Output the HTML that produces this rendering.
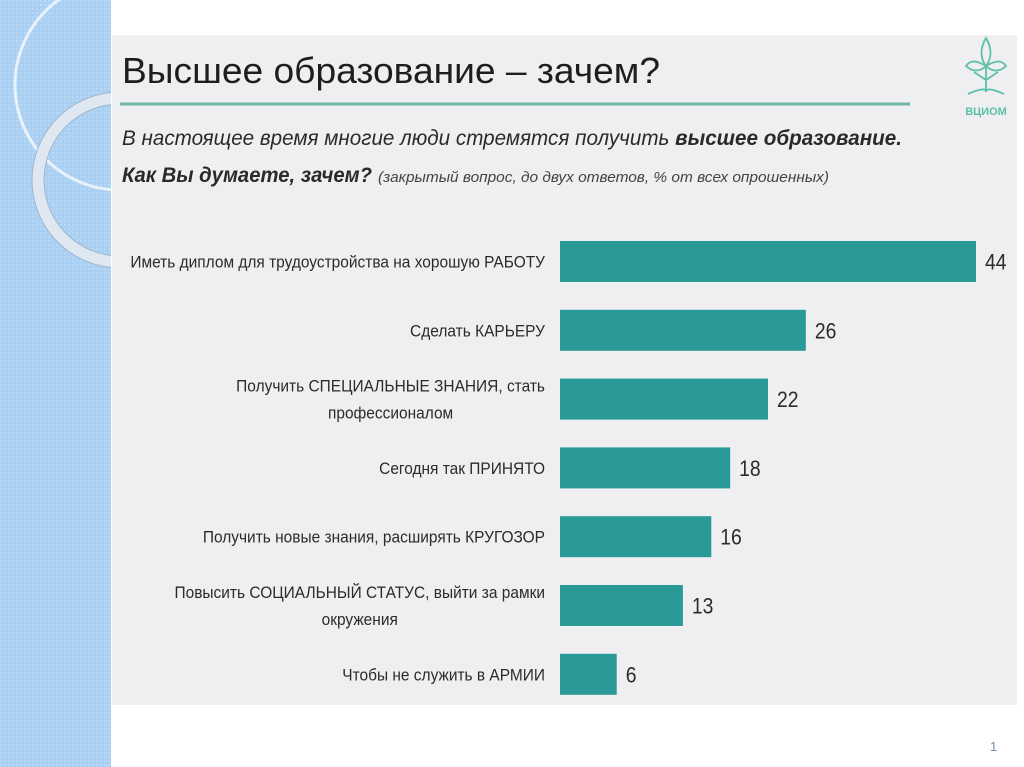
<!DOCTYPE html>
<html><head><meta charset="utf-8">
<style>
html,body{margin:0;padding:0;width:1024px;height:767px;overflow:hidden;background:#fff;}
svg{display:block;}
text{font-family:"Liberation Sans",sans-serif;}
</style></head>
<body>
<svg id="chart" width="1024" height="767" viewBox="0 0 1024 767">
  <defs>
    <pattern id="dots" width="4" height="4" patternUnits="userSpaceOnUse">
      <rect width="4" height="4" fill="#a9d0f3"/>
      <rect width="2" height="2" fill="#b8d8f5"/>
    </pattern>
  </defs>
  <rect x="0" y="0" width="111" height="767" fill="url(#dots)"/>
  <g fill="none">
    <circle cx="120" cy="85" r="105" stroke="#e9f2fb" stroke-width="3"/>
    <circle cx="120" cy="180" r="82" stroke="#dfe8f1" stroke-width="12"/>
    <circle cx="120" cy="180" r="88" stroke="#9fb6cc" stroke-width="1"/>
    <circle cx="120" cy="180" r="76" stroke="#9fb6cc" stroke-width="1"/>
  </g>
  <rect x="111" y="0" width="913" height="767" fill="#fff"/>
  <rect x="112" y="35" width="905" height="670" fill="#efeff2"/>

  <text x="122" y="83" font-size="36" fill="#1e1e1e" textLength="538" lengthAdjust="spacingAndGlyphs">Высшее образование – зачем?</text>
  <line x1="120" y1="104" x2="910" y2="104" stroke="#6fb5a8" stroke-width="3"/>
  <text x="122" y="145" font-size="21" font-style="italic" fill="#2a2a2a" textLength="780" lengthAdjust="spacingAndGlyphs">В настоящее время многие люди стремятся получить <tspan font-weight="bold">высшее образование.</tspan></text>
  <text x="122" y="182" font-size="21" font-style="italic" font-weight="bold" fill="#2a2a2a" textLength="250" lengthAdjust="spacingAndGlyphs">Как Вы думаете, зачем?</text>
  <text x="378" y="182" font-size="15" font-style="italic" fill="#444" textLength="451" lengthAdjust="spacingAndGlyphs">(закрытый вопрос, до двух ответов, % от всех опрошенных)</text>

  <g fill="none" stroke="#5cc0a8" stroke-width="1.8">
    <path d="M986 38 C980 48 980 58 986 66 C992 58 992 48 986 38Z"/>
    <path d="M986 66 C976 60 970 60 966 66 C972 72 980 72 986 66Z"/>
    <path d="M986 66 C996 60 1002 60 1006 66 C1000 72 992 72 986 66Z"/>
    <path d="M986 66 L986 92 M986 80 L974 72 M986 80 L998 72 M968 94 Q986 86 986 92 Q986 86 1004 94"/>
    <text x="986" y="115" font-size="11" font-weight="bold" fill="#5cc0a8" stroke="none" text-anchor="middle">ВЦИОМ</text>
  </g>

  <g id="bars"></g>
  <text x="990" y="751" font-size="13" fill="#7a8da0">1</text>
</svg>
<script>
const categories = [
  ["Иметь диплом для трудоустройства на хорошую РАБОТУ"],
  ["Сделать КАРЬЕРУ"],
  ["Получить СПЕЦИАЛЬНЫЕ ЗНАНИЯ, стать","профессионалом"],
  ["Сегодня так ПРИНЯТО"],
  ["Получить новые знания, расширять КРУГОЗОР"],
  ["Повысить СОЦИАЛЬНЫЙ СТАТУС, выйти за рамки","окружения"],
  ["Чтобы не служить в АРМИИ"]
];
const values = [44, 26, 22, 18, 16, 13, 6];
const valueLabels = ["44", "26", "22", "18", "16", "13", "6"];

const NS = "http://www.w3.org/2000/svg";
const g = document.getElementById("bars");
const x0 = 560, pxPerUnit = 416 / 44;
const y0 = 241, step = 68.8, barH = 41;
function xScale(v){ return x0 + v * pxPerUnit; }
function yScale(i){ return y0 + i * step; }

values.forEach((v, i) => {
  const y = yScale(i);
  const r = document.createElementNS(NS, "rect");
  r.setAttribute("x", x0);
  r.setAttribute("y", y);
  r.setAttribute("width", xScale(v) - x0);
  r.setAttribute("height", barH);
  r.setAttribute("fill", "#2a9a98");
  
  
  g.appendChild(r);

  const vx = xScale(v) + 9;
  const t = document.createElementNS(NS, "text");
  t.setAttribute("x", vx);
  t.setAttribute("y", y + barH / 2 + 8);
  t.setAttribute("font-size", "22");
  t.setAttribute("fill", "#2b2b2b");
  t.setAttribute("transform", `translate(${vx},0) scale(0.88,1) translate(${-vx},0)`);
  t.textContent = valueLabels[i];
  
  
  g.appendChild(t);

  const lines = categories[i];
  const lg = document.createElementNS(NS, "g");
  lg.setAttribute("transform", "translate(545,0) scale(0.91,1) translate(-545,0)");
  
  
  g.appendChild(lg);
  let firstW = 0;
  lines.forEach((ln, k) => {
    const lt = document.createElementNS(NS, "text");
    const cy = y + barH / 2 + 6 + (k - (lines.length - 1) / 2) * 27;
    lt.setAttribute("y", cy);
    lt.setAttribute("font-size", "17");
    lt.setAttribute("fill", "#2b2b2b");
    lt.textContent = ln;
    
    
    lg.appendChild(lt);
    if (k === 0) {
      lt.setAttribute("x", 545);
      lt.setAttribute("text-anchor", "end");
      firstW = lt.getComputedTextLength();
    } else {
      lt.setAttribute("x", 545 - firstW / 2);
      lt.setAttribute("text-anchor", "middle");
    }
  });
});
</script>
</body></html>
